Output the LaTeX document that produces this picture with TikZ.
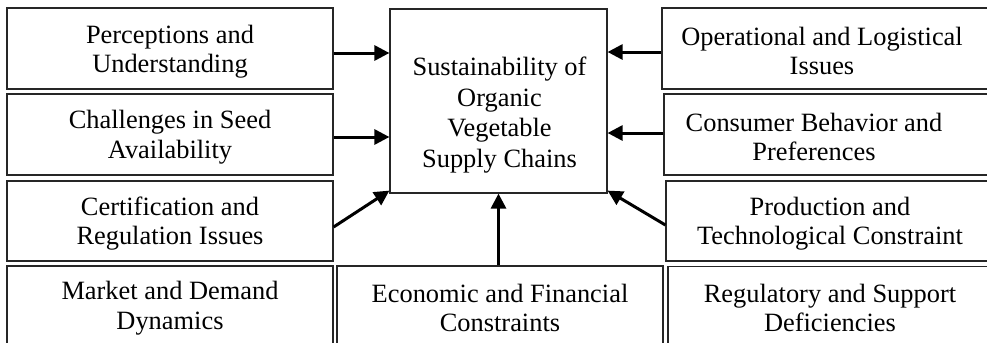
\documentclass[tikz,border=0pt]{standalone}
\usepackage{fontspec}
\setmainfont{Liberation Serif}
\usetikzlibrary{arrows.meta}
\tikzset{
  box/.style={draw=black!85, line width=0.6pt, rectangle, inner sep=0pt},
  txt/.style={inner sep=0pt, align=center, font=\fontsize{13.2pt}{14.8pt}\selectfont},
  arr/.style={line width=1.5pt, -{Triangle[length=7.5pt,width=7.5pt]}}
}
\begin{document}
\begin{tikzpicture}[x=0.5pt, y=-0.5pt]
\useasboundingbox (0,0) rectangle (987,343);
\clip (0,0) rectangle (987,343);
\fill[white] (0,0) rectangle (987,343);
% left column
\node[box, minimum width=163pt, minimum height=40.5pt] (l1) at (170,48.5) {};
\node[txt] (l1t) at (170,51.5) {Perceptions and\\Understanding};
\node[box, minimum width=163pt, minimum height=40.5pt] (l2) at (170,134.5) {};
\node[txt] (l2t) at (170,137) {Challenges in Seed\\Availability};
\node[box, minimum width=163pt, minimum height=40pt] (l3) at (170,221) {};
\node[txt] (l3t) at (170,223.5) {Certification and\\Regulation Issues};
\node[box, minimum width=163pt, minimum height=43pt] (l4) at (170,309) {};
\node[txt] (l4t) at (170,308) {Market and Demand\\Dynamics};
% centre
\node[box, minimum width=108.5pt, minimum height=92pt] (c) at (498.5,101) {};
\node[txt, font=\fontsize{13.2pt}{15.4pt}\selectfont] (ct) at (499.5,115) {Sustainability of\\Organic\\Vegetable\\Supply Chains};
% bottom middle
\node[box, minimum width=163pt, minimum height=43pt] (b) at (500,309) {};
\node[txt] (bt) at (500,308) {Economic and Financial\\Constraints};
% right column
\node[box, minimum width=170pt, minimum height=40.5pt] (r1) at (832,48.5) {};
\node[txt] (r1t) at (822,51) {Operational and Logistical\\Issues};
\node[box, minimum width=170pt, minimum height=40.5pt] (r2) at (834,134.5) {};
\node[txt] (r2t) at (814,137) {Consumer Behavior and\\Preferences};
\node[box, minimum width=170pt, minimum height=40pt] (r3) at (836,221) {};
\node[txt] (r3t) at (830,223.5) {Production and\\Technological Constraint};
\node[box, minimum width=170pt, minimum height=43pt] (r4) at (838,309.5) {};
\node[txt] (r4t) at (830,308) {Regulatory and Support\\Deficiencies};
% arrows
\draw[arr] ([yshift=-2.25pt]l1.east) -- ([yshift=-2.25pt]l1.east -| c.west);
\draw[arr] ([yshift=-1.25pt]l2.east) -- ([yshift=-1.25pt]l2.east -| c.west);
\draw[arr] ([yshift=-3pt]l3.east) -- ([yshift=1.5pt]c.south west);
\draw[arr] ([yshift=-1.75pt]r1.west) -- ([yshift=-1.75pt]r1.west -| c.east);
\draw[arr] ([yshift=0.75pt]r2.west) -- ([yshift=0.75pt]r2.west -| c.east);
\draw[arr] ([yshift=-2pt]r3.west) -- ([yshift=1.5pt]c.south east);
\draw[arr] ([xshift=-0.75pt]b.north) -- ([xshift=-0.75pt]b.north |- c.south);
\end{tikzpicture}
\end{document}
